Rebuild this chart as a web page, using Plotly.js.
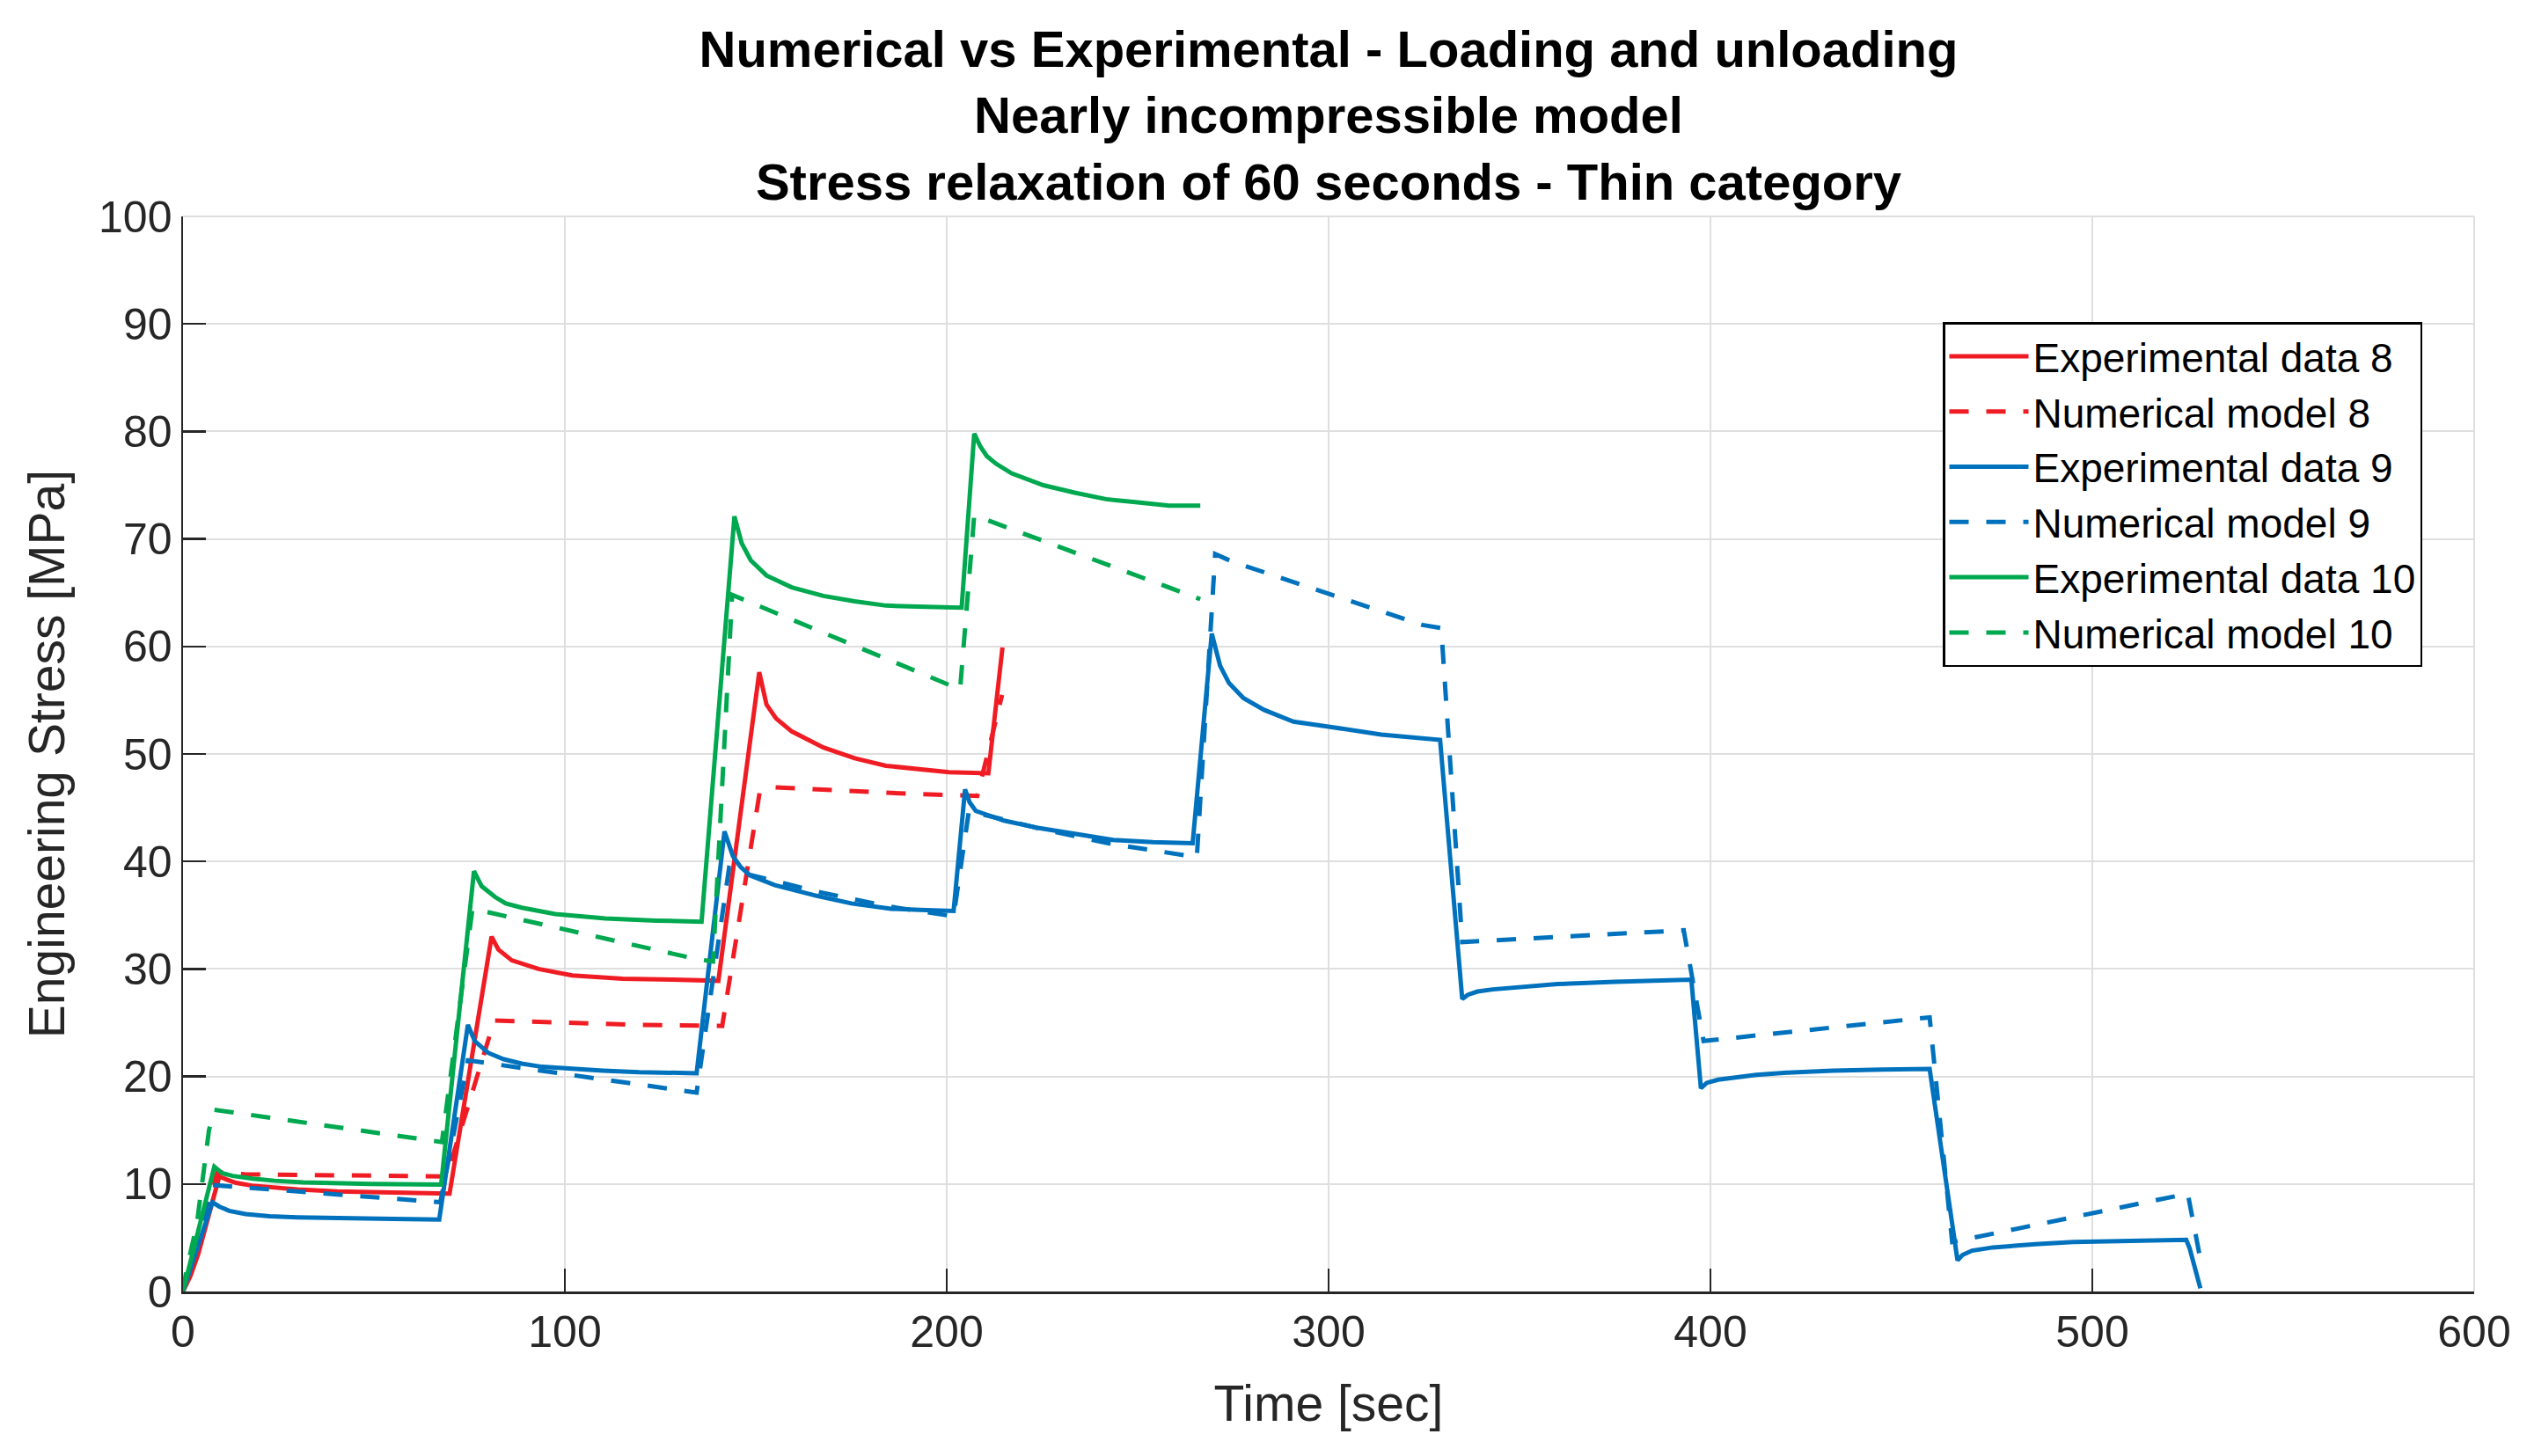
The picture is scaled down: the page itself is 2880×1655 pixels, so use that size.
<!DOCTYPE html>
<html>
<head>
<meta charset="utf-8">
<script src="https://cdn.plot.ly/plotly-3.0.1.min.js"></script>
<style>
  html, body { margin: 0; padding: 0; background: #ffffff; }
  #chart { width: 2880px; height: 1655px; }
</style>
</head>
<body>
<div id="chart"></div>
<script>
// ---- Data (time in s, stress in MPa) ----
const tExp8 = [0, 2, 4, 6, 8, 9.5, 11.5, 13.9, 18, 22.7, 30, 40.3, 55, 69.8,
  80.8, 82.6, 86.1, 93.1, 101.9, 115.1, 128.3, 140.2,
  150.9, 152.8, 155.3, 159.4, 167.7, 175.9, 184.1, 192.3, 200.6, 210.9, 214.6];
const sExp8 = [0, 1.5, 3.5, 6.0, 8.8, 10.7, 10.4, 10.1, 9.85, 9.7, 9.5, 9.3, 9.2, 9.1,
  33.0, 31.8, 30.8, 30.0, 29.4, 29.1, 29.0, 28.9,
  57.6, 54.6, 53.3, 52.1, 50.6, 49.6, 48.9, 48.6, 48.3, 48.2, 59.9];

const tNum8 = [0, 9, 16.1, 40, 69, 81.5, 100, 120, 141.2, 151, 154.8, 170, 190, 208, 214.5];
const sNum8 = [0, 11.1, 10.9, 10.8, 10.7, 25.2, 25.0, 24.8, 24.7, 46.4, 46.9, 46.6, 46.3, 46.1, 55.5];

const tExp9 = [0, 7.7, 9.5, 12.1, 16.4, 22.7, 30, 40.3, 55, 67.1,
  74.6, 76.4, 79.9, 84, 88.7, 94, 101.9, 110, 119.5, 134.5,
  141.8, 144, 146, 148.5, 155, 166, 175, 185.4, 193, 201.8,
  204.8, 206, 207.6, 215, 224.2, 235, 243.6, 254, 264.4,
  269.4, 271.6, 273.9, 277.7, 283.1, 290.8, 300.8, 313.8, 329.2,
  335, 336.5, 339, 343, 350, 360, 375, 395,
  397.5, 399, 402, 406, 412, 420, 432, 445, 457.4,
  464.7, 466, 468.5, 474, 485, 495, 510, 524.6, 525.5, 526.5, 527.5, 528.3];
const sExp9 = [0, 8.3, 7.9, 7.5, 7.2, 7.0, 6.9, 6.8, 6.75, 6.7,
  24.8, 23.3, 22.2, 21.6, 21.2, 20.9, 20.7, 20.55, 20.4, 20.3,
  42.8, 40.5, 39.5, 38.7, 37.8, 36.8, 36.1, 35.6, 35.5, 35.4,
  46.7, 45.5, 44.7, 43.8, 43.1, 42.5, 42.0, 41.8, 41.7,
  61.2, 58.2, 56.6, 55.2, 54.1, 53.0, 52.5, 51.8, 51.3,
  27.2, 27.6, 27.9, 28.1, 28.3, 28.6, 28.8, 29.0,
  18.9, 19.4, 19.7, 19.9, 20.15, 20.35, 20.55, 20.65, 20.7,
  2.9, 3.4, 3.8, 4.1, 4.4, 4.6, 4.7, 4.8, 4.0, 2.6, 1.3, 0.3];

const tNum9 = [0, 7.7, 67.4, 74.6, 134.5, 143, 148, 166, 185, 201.8, 205.8, 225, 243.6, 265.5, 270.3, 274.7, 300, 324.6, 329.5, 335, 393, 398.2, 457.4, 463.3, 525, 528.3];
const sNum9 = [0, 9.9, 8.3, 21.5, 18.5, 39.4, 38.8, 37.2, 35.8, 34.9, 44.7, 43.0, 41.6, 40.4, 68.6, 67.9, 64.9, 62.0, 61.7, 32.5, 33.6, 23.3, 25.5, 4.6, 9.1, 3.0];

const tExp10 = [0, 8.2, 10.3, 13, 18.3, 24, 31.5, 40, 49.1, 67.6,
  76.2, 78.2, 81.7, 84.5, 88.7, 97.5, 110.7, 123.9, 135.8,
  144.4, 146.3, 148.7, 152.8, 159.4, 167.7, 175.9, 184.1, 192.3, 203.9,
  207.2, 208.8, 210.5, 212.9, 217.0, 225.3, 233.5, 241.7, 250.0, 258.2, 266.4];
const sExp10 = [0, 11.6, 11.0, 10.75, 10.5, 10.3, 10.15, 10.05, 10.0, 9.95,
  39.1, 37.7, 36.7, 36.1, 35.7, 35.1, 34.7, 34.5, 34.4,
  72.1, 69.6, 68.0, 66.6, 65.5, 64.7, 64.2, 63.8, 63.7, 63.6,
  79.8, 78.6, 77.7, 77.0, 76.1, 75.0, 74.3, 73.7, 73.4, 73.1, 73.1];

const tNum10 = [0, 0.9, 3.6, 6.8, 8.2, 67.8, 75.8, 134.8, 138.8, 143.8, 203.5, 207.2, 266.4];
const sNum10 = [0, 2.0, 6.2, 15.0, 16.9, 13.9, 35.6, 30.9, 30.7, 64.8, 56.0, 72.2, 64.4];

const names = ['Experimental data 8', 'Numerical model 8', 'Experimental data 9', 'Numerical model 9', 'Experimental data 10', 'Numerical model 10'];
const xTicks = [0, 100, 200, 300, 400, 500, 600];
const yTicks = [0, 10, 20, 30, 40, 50, 60, 70, 80, 90, 100];

const RED = '#f01c24', BLUE = '#0072bd', GREEN = '#00a84f';
const DASH = '22px,20px';
const LW = 5;

function tr(x, y, name, color, dash) {
  return { x: x, y: y, name: name, type: 'scatter', mode: 'lines',
           line: { color: color, width: LW, dash: dash || 'solid' } };
}

const data = [
  tr(tExp8, sExp8, names[0], RED),
  tr(tNum8, sNum8, names[1], RED, DASH),
  tr(tExp9, sExp9, names[2], BLUE),
  tr(tNum9, sNum9, names[3], BLUE, DASH),
  tr(tExp10, sExp10, names[4], GREEN),
  tr(tNum10, sNum10, names[5], GREEN, DASH)
];

const FONT = 'Liberation Sans, Arial, Helvetica, sans-serif';
const AX = '#262626';

const layout = {
  width: 2880, height: 1655,
  paper_bgcolor: '#ffffff', plot_bgcolor: '#ffffff',
  margin: { l: 208, r: 68, t: 246, b: 187 },
  showlegend: true,
  title: {
    text: '<b>Numerical vs Experimental - Loading and unloading</b><br><b>Nearly incompressible model</b><br><b>Stress relaxation of 60 seconds - Thin category</b>',
    font: { family: FONT, size: 58, color: '#000000' },
    x: 0.5, xanchor: 'center', xref: 'paper',
    y: 0.9541, yanchor: 'middle', yref: 'container'
  },
  xaxis: {
    range: [0, 600], tickvals: xTicks, ticktext: xTicks.map(String),
    showgrid: true, gridcolor: '#dfdfdf', gridwidth: 2,
    zeroline: false, showline: true, linecolor: AX, linewidth: 2.5, mirror: false,
    ticks: 'inside', ticklen: 26, tickwidth: 2.5, tickcolor: AX,
    tickfont: { family: FONT, size: 50, color: AX },
    title: { text: 'Time [sec]', font: { family: FONT, size: 57, color: AX }, standoff: 35 }
  },
  yaxis: {
    range: [0, 100], tickvals: yTicks, ticktext: yTicks.map(String),
    showgrid: true, gridcolor: '#dfdfdf', gridwidth: 2,
    zeroline: false, showline: true, linecolor: AX, linewidth: 2.5, mirror: false,
    ticks: 'inside', ticklen: 26, tickwidth: 2.5, tickcolor: AX,
    tickfont: { family: FONT, size: 50, color: AX },
    title: { text: 'Engineering Stress [MPa]', font: { family: FONT, size: 57, color: AX }, standoff: 20 }
  },
  legend: {
    x: (2208 - 208) / 2604, y: (1468 - 366) / 1222, xanchor: 'left', yanchor: 'top',
    bgcolor: '#ffffff', bordercolor: '#000000', borderwidth: 2.5,
    font: { family: FONT, size: 46, color: '#000000' },
    itemwidth: 90, tracegroupgap: 0
  },
  shapes: [
    { type: 'line', xref: 'paper', yref: 'paper', x0: 0, x1: 1, y0: 1, y1: 1, line: { color: '#dfdfdf', width: 2 }, layer: 'below' },
    { type: 'line', xref: 'paper', yref: 'paper', x0: 1, x1: 1, y0: 0, y1: 1, line: { color: '#dfdfdf', width: 2 }, layer: 'below' }
  ]
};

Plotly.newPlot('chart', data, layout, { staticPlot: true, displayModeBar: false });
</script>
</body>
</html>
